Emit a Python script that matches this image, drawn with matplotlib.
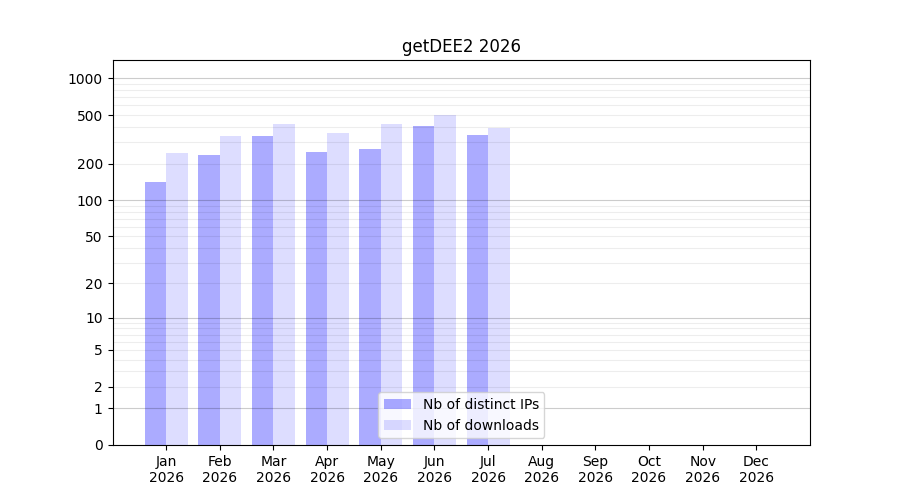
import numpy as np
import matplotlib
matplotlib.use("Agg")
import matplotlib.pyplot as plt

title = "getDEE2 2026"
months = ["Jan", "Feb", "Mar", "Apr", "May", "Jun", "Jul", "Aug", "Sep", "Oct", "Nov", "Dec"]
year = "2026"
ips = [141, 235, 337, 249, 263, 407, 343]
downloads = [244, 337, 422, 356, 422, 501, 392]
ytick_vals = [0, 1, 2, 5, 10, 20, 50, 100, 200, 500, 1000]

fig, ax = plt.subplots(figsize=(9, 5), dpi=100)

fwd = lambda v: np.log10(1 + np.clip(v, 0, None))
inv = lambda v: 10 ** v - 1
ax.set_yscale("function", functions=(fwd, inv))

x = np.arange(len(ips))
w = 0.4
ax.bar(x - w / 2, ips, width=w, color=(0, 0, 1, 0.33), label="Nb of distinct IPs", zorder=1)
ax.bar(x + w / 2, downloads, width=w, color=(0, 0, 1, 0.135), label="Nb of downloads", zorder=1)

# grid lines
for dec in [1, 10, 100]:
    for m in range(2, 10):
        ax.axhline(m * dec, color="k", alpha=0.07, lw=0.8, zorder=2)
for v in [1, 10, 100, 1000]:
    ax.axhline(v, color="k", alpha=0.2, lw=0.8, zorder=2)

ax.set_ylim(0, 1414)
ax.set_yticks(ytick_vals)
ax.set_yticklabels([str(v) for v in ytick_vals])
ax.yaxis.set_minor_locator(matplotlib.ticker.NullLocator())

ax.set_xticks(np.arange(len(months)))
ax.set_xticklabels([f"{m}\n{year}" for m in months])
ax.set_xlim(-1, 12)

ax.set_title(title)
ax.legend(loc="lower center")

fig.savefig("out.png", dpi=100)
